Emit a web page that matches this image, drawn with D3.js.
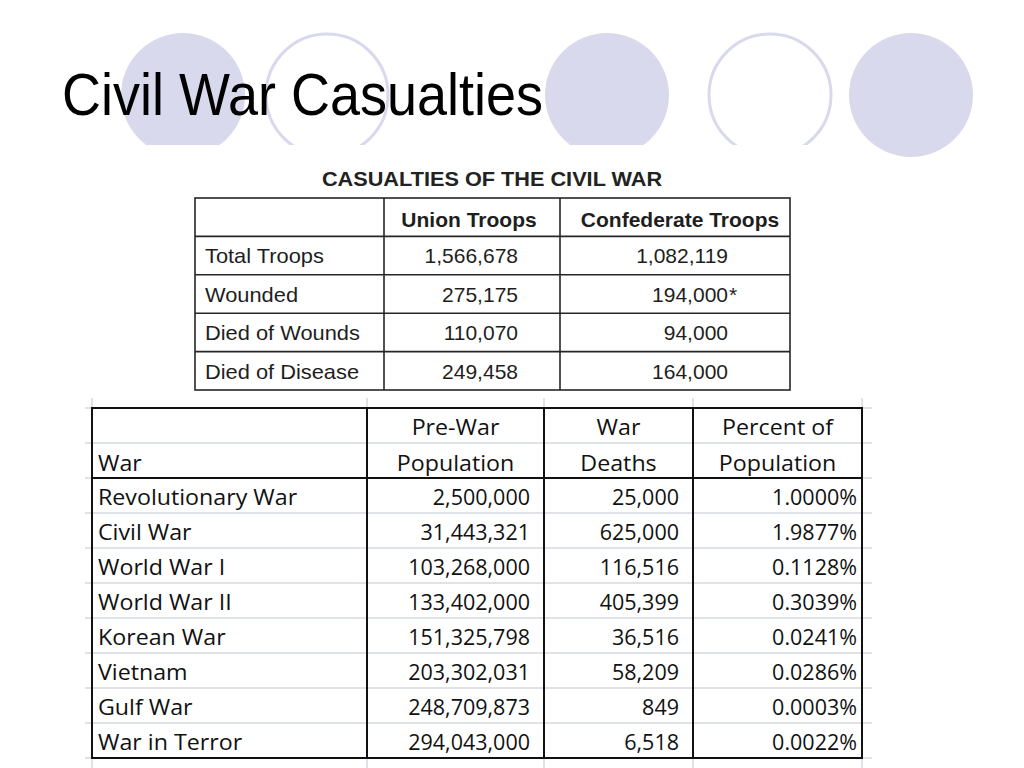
<!DOCTYPE html>
<html><head><meta charset="utf-8">
<script src="https://cdn.jsdelivr.net/npm/d3@7"></script>
<style>html,body{margin:0;padding:0;background:#fff;overflow:hidden}</style>
</head><body><svg id="chart" width="1024" height="768"></svg>
<script>
// ---------------- data ----------------
const slideTitle = "Civil War Casualties";
const ornamentFilled = [true, false, true, false, true];

const table1Title = "CASUALTIES OF THE CIVIL WAR";
const table1Columns = ["Union Troops", "Confederate Troops"];
const table1Rows = ["Total Troops", "Wounded", "Died of Wounds", "Died of Disease"];
const unionTroops = [1566678, 275175, 110070, 249458];
const confederateTroops = [1082119, 194000, 94000, 164000];
const confederateNotes = ["", "*", "", ""];

const table2Headers = [["", "War"], ["Pre-War", "Population"], ["War", "Deaths"], ["Percent of", "Population"]];
const wars = ["Revolutionary War", "Civil War", "World War I", "World War II", "Korean War", "Vietnam", "Gulf War", "War in Terror"];
const preWarPopulation = [2500000, 31443321, 103268000, 133402000, 151325798, 203302031, 248709873, 294043000];
const warDeaths = [25000, 625000, 116516, 405399, 36516, 58209, 849, 6518];
const percentOfPopulation = [1.0000, 1.9877, 0.1128, 0.3039, 0.0241, 0.0286, 0.0003, 0.0022];

// ---------------- drawing ----------------
const svg = d3.select("#chart");
const fmt = d3.format(",");
const pct = v => d3.format(".4f")(v) + "%";

function txt(g, x, y, s, opts) {
  const o = Object.assign({anchor: "start", sx: 1, size: 20, weight: "normal", family: "'Liberation Sans', Arial, sans-serif", fill: "#1e1e1e"}, opts || {});
  return g.append("text")
    .attr("transform", `translate(${x},${y}) scale(${o.sx},1)`)
    .attr("text-anchor", o.anchor)
    .attr("font-family", o.family)
    .attr("font-size", o.size)
    .attr("font-weight", o.weight)
    .attr("fill", o.fill)
    .text(s);
}

// ornaments
const ornCenters = [183, 327, 607, 770, 911];
svg.append("clipPath").attr("id", "topclip").append("rect").attr("x", 0).attr("y", 0).attr("width", 1024).attr("height", 145);
const orn = svg.append("g");
ornamentFilled.forEach((f, i) => {
  const c = orn.append("circle")
    .attr("cx", ornCenters[i]).attr("cy", 95)
    .attr("r", f ? 62 : 61)
    .attr("fill", f ? "#d9d9ed" : "none")
    .attr("stroke", f ? "none" : "#d9d9ed")
    .attr("stroke-width", 3);
  if (i < 4) c.attr("clip-path", "url(#topclip)");
});

// title
txt(svg, 62, 115, slideTitle, {size: 60, sx: 0.9, fill: "#000"});

// ---------------- table 1 ----------------
const t1 = svg.append("g");
const t1Edges = [195, 384, 560, 790];
const t1y = d3.scaleBand().domain(d3.range(table1Rows.length + 1)).range([198, 390]);
txt(t1, 492, 186, table1Title, {anchor: "middle", size: 20, weight: "bold", sx: 1.085, fill: "#222"});
const lineC1 = "#262626";
t1.append("rect").attr("x", t1Edges[0]).attr("y", 198).attr("width", t1Edges[3] - t1Edges[0]).attr("height", 192)
  .attr("fill", "none").attr("stroke", lineC1).attr("stroke-width", 1.6);
[t1Edges[1], t1Edges[2]].forEach(x => t1.append("line").attr("x1", x).attr("x2", x).attr("y1", 198).attr("y2", 390).attr("stroke", lineC1).attr("stroke-width", 1.6));
d3.range(1, table1Rows.length + 1).forEach(i => t1.append("line").attr("x1", t1Edges[0]).attr("x2", t1Edges[3]).attr("y1", t1y(i)).attr("y2", t1y(i)).attr("stroke", lineC1).attr("stroke-width", 1.6));

const t1HeadCenters = [469, 680];
table1Columns.forEach((c, j) => txt(t1, t1HeadCenters[j], t1y(0) + 28.5, c, {anchor: "middle", size: 20, weight: "bold", sx: 1.05}));
table1Rows.forEach((r, i) => {
  const by = t1y(i + 1) + 27;
  txt(t1, 205, by, r, {size: 21, sx: 1.04});
  txt(t1, 518, by, fmt(unionTroops[i]), {size: 21, anchor: "end"});
  txt(t1, 728, by, fmt(confederateTroops[i]), {size: 21, anchor: "end"});
  if (confederateNotes[i]) txt(t1, 729, by, confederateNotes[i], {size: 21});
});

// ---------------- table 2 ----------------
const t2 = svg.append("g");
const t2Edges = [92, 367, 544, 693, 862];
const headTop = 408, headMid = 443, headBot = 478;
const t2y = d3.scaleBand().domain(d3.range(wars.length)).range([headBot, 758]);
const gridC = "#d5d9df";
// excel gridlines
t2Edges.forEach(x => t2.append("line").attr("x1", x).attr("x2", x).attr("y1", 398).attr("y2", 768).attr("stroke", gridC).attr("stroke-width", 1.5));
[headTop, headMid, headBot].concat(d3.range(1, wars.length + 1).map(i => t2y(i - 1) + t2y.bandwidth()))
  .forEach(y => t2.append("line").attr("x1", 85).attr("x2", 872).attr("y1", y).attr("y2", y).attr("stroke", gridC).attr("stroke-width", 1.5));
// borders
const bC = "#111";
t2.append("rect").attr("x", t2Edges[0]).attr("y", headTop).attr("width", t2Edges[4] - t2Edges[0]).attr("height", 758 - headTop)
  .attr("fill", "none").attr("stroke", bC).attr("stroke-width", 2);
t2Edges.slice(1, 4).forEach(x => t2.append("line").attr("x1", x).attr("x2", x).attr("y1", headTop).attr("y2", 758).attr("stroke", bC).attr("stroke-width", 2));
t2.append("line").attr("x1", t2Edges[0]).attr("x2", t2Edges[4]).attr("y1", headBot).attr("y2", headBot).attr("stroke", bC).attr("stroke-width", 2);

const f2 = {family: "'Open Sans', 'Noto Sans', sans-serif", size: 21.5, fill: "#111"};
const f2w = Object.assign({}, f2, {sx: 1.08});
const headX = [98, (t2Edges[1] + t2Edges[2]) / 2, (t2Edges[2] + t2Edges[3]) / 2, (t2Edges[3] + t2Edges[4]) / 2];
table2Headers.forEach((h, j) => {
  const a = j === 0 ? "start" : "middle";
  if (h[0]) txt(t2, headX[j], headTop + 27, h[0], Object.assign({}, f2w, {anchor: a}));
  if (h[1]) txt(t2, headX[j], headMid + 28, h[1], Object.assign({}, f2w, {anchor: a}));
});
wars.forEach((w, i) => {
  const by = t2y(i) + 27;
  txt(t2, 98, by, w, f2w);
  txt(t2, 530, by, fmt(preWarPopulation[i]), Object.assign({}, f2, {anchor: "end"}));
  txt(t2, 679, by, fmt(warDeaths[i]), Object.assign({}, f2, {anchor: "end"}));
  txt(t2, 857, by, pct(percentOfPopulation[i]), Object.assign({}, f2, {anchor: "end"}));
});
</script></body></html>
